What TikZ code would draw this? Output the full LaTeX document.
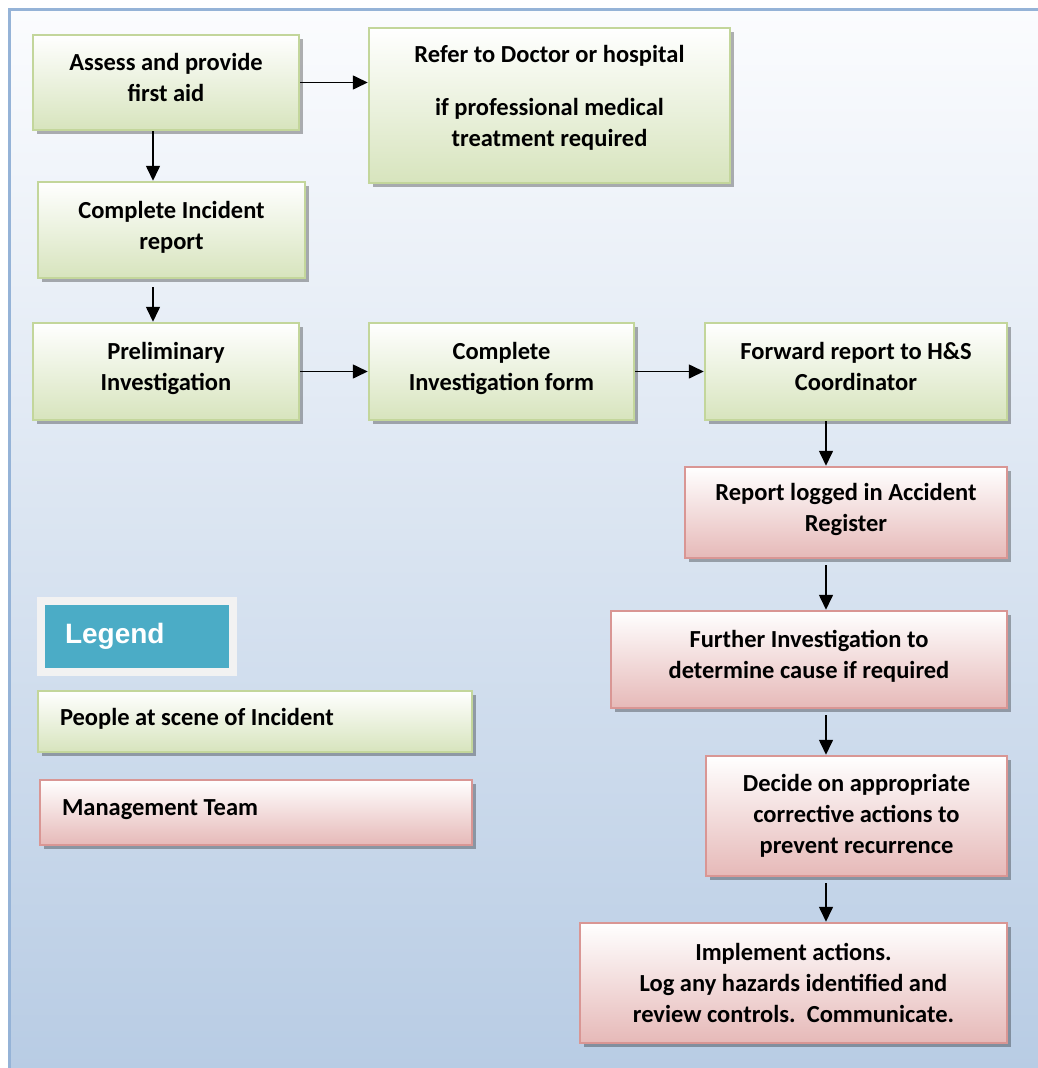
\documentclass[tikz,border=0pt]{standalone}
\usepackage{fontspec}
\setmainfont{Carlito}
\newfontfamily\legendfont{Liberation Sans}
\usepackage{tikz}
\usetikzlibrary{arrows.meta,shadows}

\definecolor{frameblue}{HTML}{95B3D7}
\definecolor{bgtop}{HTML}{FBFCFE}
\definecolor{bgbottom}{HTML}{B8CCE4}
\definecolor{grnfill}{HTML}{D7E4BD}
\definecolor{grnline}{HTML}{C3D69B}
\definecolor{redfill}{HTML}{E6B9B8}
\definecolor{redline}{HTML}{D99694}
\definecolor{legteal}{HTML}{4BACC6}
\definecolor{leggray}{HTML}{F2F2F2}

\tikzset{
  box/.style={rectangle, line width=2.5pt, align=center, inner sep=0pt,
    text depth=10pt, font=\bfseries\fontsize{24.5}{31}\selectfont,
    drop shadow={shadow xshift=4pt, shadow yshift=-4pt, fill=black, opacity=.3}},
  scenebox/.style={box, draw=grnline, top color=white, bottom color=grnfill},
  teambox/.style={box, draw=redline, top color=white, bottom color=redfill},
  flow/.style={-{Triangle[length=15pt,width=14pt]}, line width=1.6pt}
}

\begin{document}
\begin{tikzpicture}[x=1pt,y=-1pt]

  %% Page and frame
  \useasboundingbox (0,0) rectangle (1037,1068);
  \shade[top color=bgtop, bottom color=bgbottom] (9,9) rectangle (1040,1070);
  \draw[frameblue, line width=3pt] (1040,9) -- (9,9) -- (9,1070);

  %% People at the scene
  \node[scenebox, minimum width=266pt, minimum height=95pt] (assess) at (166,82.5)
    {Assess and provide\\first aid};
  \node[scenebox, minimum width=361pt, minimum height=155pt, text depth=19pt] (refer) at (549.5,105.5)
    {Refer to Doctor or hospital\\[22pt]if professional medical\\treatment required};
  \node[scenebox, minimum width=267pt, minimum height=96pt] (incident) at (171.5,230)
    {Complete Incident\\report};
  \node[scenebox, minimum width=266pt, minimum height=97pt] (prelim) at (166,371.5)
    {Preliminary\\Investigation};
  \node[scenebox, minimum width=265pt, minimum height=97pt] (invform) at (501.5,371.5)
    {Complete\\Investigation form};
  \node[scenebox, minimum width=302pt, minimum height=97pt] (forward) at (856,371.5)
    {Forward report to H\&S\\Coordinator};

  %% Management team
  \node[teambox, minimum width=322pt, minimum height=91pt] (logged) at (846,512.5)
    {Report logged in Accident\\Register};
  \node[teambox, minimum width=396pt, minimum height=97pt] (further) at (809,659.5)
    {Further Investigation to\\determine cause if required};
  \node[teambox, minimum width=301pt, minimum height=120pt, text depth={}] (decide) at (856.5,816)
    {Decide on appropriate\\corrective actions to\\prevent recurrence};
  \node[teambox, minimum width=427pt, minimum height=120pt, text depth={}] (implement) at (793.5,983)
    {Implement actions.\\Log any hazards identified and\\review controls.\ \ Communicate.};

  %% Legend
  \node[rectangle, fill=legteal, draw=leggray, line width=8pt, inner xsep=24pt,
    text width=144pt, minimum height=71pt, align=flush left, text=white,
    font=\legendfont\bfseries\fontsize{28}{32}\selectfont,
    drop shadow={shadow xshift=4pt, shadow yshift=-4pt, fill=black, opacity=.3}]
    (legend) at (137,636.5) {Legend};
  \node[scenebox, minimum width=434pt, minimum height=61pt, inner xsep=22pt,
    text width=390pt, align=flush left] (people) at (255,721.5) {People at scene of Incident};
  \node[teambox, minimum width=432pt, minimum height=65pt, inner xsep=22pt,
    text width=388pt, align=flush left] (team) at (256,812.5) {Management Team};

  %% Arrows
  \coordinate (leftcol) at (153,0);
  \coordinate (rightcol) at (826,0);
  \draw[flow] (assess.east) -- (assess.east -| refer.west);
  \draw[flow] (assess.south -| leftcol) -- (incident.north -| leftcol);
  \draw[flow] ([yshift=-8pt]incident.south -| leftcol) -- (prelim.north -| leftcol);
  \draw[flow] (prelim.east) -- (invform.west);
  \draw[flow] (invform.east) -- (forward.west);
  \draw[flow] (forward.south -| rightcol) -- (logged.north -| rightcol);
  \draw[flow] ([yshift=-6pt]logged.south -| rightcol) -- (further.north -| rightcol);
  \draw[flow] ([yshift=-6pt]further.south -| rightcol) -- (decide.north -| rightcol);
  \draw[flow] ([yshift=-6pt]decide.south -| rightcol) -- (implement.north -| rightcol);

\end{tikzpicture}
\end{document}
